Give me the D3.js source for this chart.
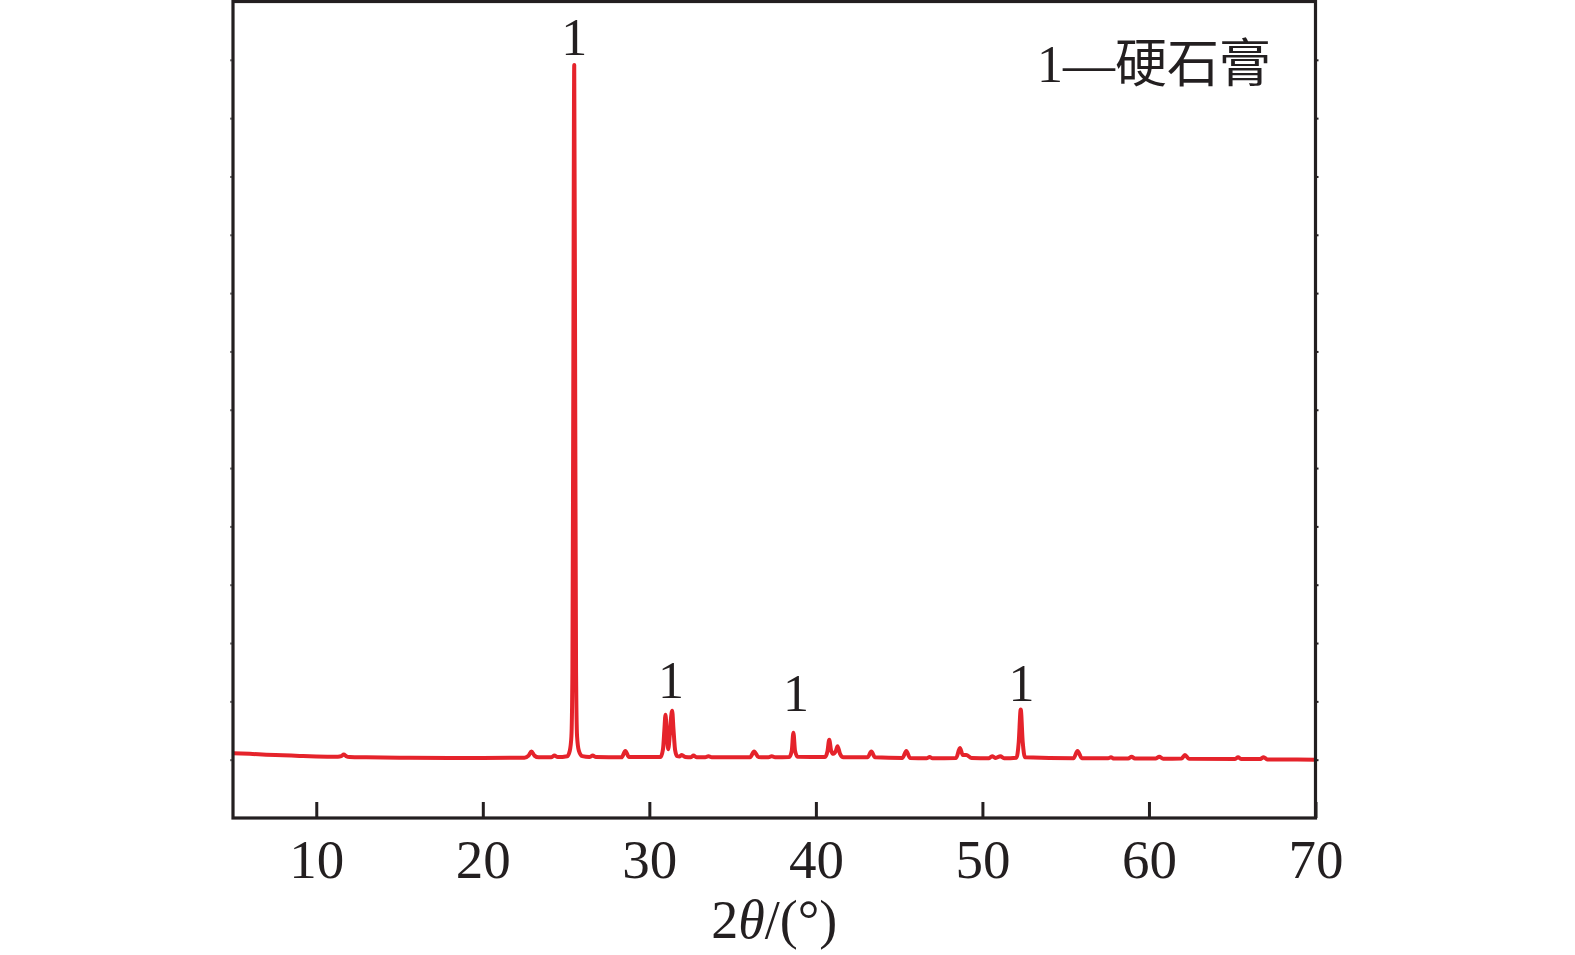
<!DOCTYPE html>
<html>
<head>
<meta charset="utf-8">
<script src="https://cdn.jsdelivr.net/npm/d3@7"></script>
<style>
  html, body { margin: 0; padding: 0; background: #fff; }
  svg { display: block; }
</style>
</head>
<body>
<div id="chart"></div>
<script>
// ---- data ----
const twoTheta = [
  5.0, 6.0, 7.0, 8.0, 9.0, 10.0, 11.3, 11.5, 11.65, 11.8, 12.0, 13.0, 15.0, 18.0, 20.0,
  22.5, 22.75, 22.92, 23.1, 23.35, 24.1, 24.3, 24.5,
  25.07, 25.22, 25.32, 25.38, 25.43, 25.49, 25.55, 25.6, 25.66, 25.77, 25.97,
  26.4, 26.6, 26.8, 28.33, 28.56, 28.78,
  30.67, 30.82, 30.9, 30.97, 31.04, 31.13, 31.22, 31.29, 31.37, 31.45, 31.55, 31.67, 31.8, 31.95, 32.15,
  32.5, 32.65, 32.85, 33.35, 33.55, 33.75, 36.05, 36.29, 36.55, 37.15, 37.35, 37.55,
  38.4, 38.55, 38.65, 38.75, 38.9,
  40.55, 40.7, 40.8, 40.92, 41.05, 41.2, 41.3, 41.45, 41.65,
  43.1, 43.33, 43.55, 45.2, 45.43, 45.65, 46.65, 46.83, 47.0,
  48.42, 48.65, 48.82, 49.03, 49.35, 50.4, 50.58, 50.8, 51.08, 51.3,
  52.05, 52.18, 52.3, 52.42, 52.56,
  55.47, 55.71, 55.97, 57.55, 57.72, 57.9, 58.75, 58.96, 59.15, 60.4, 60.62, 60.85,
  61.95, 62.16, 62.4, 65.15, 65.35, 65.55, 66.65, 66.89, 67.1, 70.0
];
const intensity = [
  111, 110, 108.5, 107.5, 106.5, 105.5, 105, 106, 109, 106, 104.5, 104, 103.5, 103, 103,
  103.5, 107, 114, 107, 104, 104, 107, 104.5,
  106, 115, 140, 250, 700, 1291, 700, 250, 140, 115, 106,
  104.5, 107, 104.5, 104, 115, 104.5,
  104.5, 118, 150, 177, 148, 118, 140, 168, 184, 152, 116, 106, 105.5, 108, 104.5,
  104, 107, 104, 104, 106, 104, 104, 114, 104.5, 104, 106, 104,
  104.5, 115, 146, 115, 105,
  104.5, 115, 134, 115, 110, 115, 123, 110, 104,
  104, 114, 104, 103, 115, 103, 102.5, 104.5, 102.5,
  103, 120, 108, 108, 103, 102.5, 106, 103, 106, 102.5,
  103.5, 130, 186, 130, 104,
  102.5, 115, 102.5, 102.5, 104, 102, 102, 105, 102, 102, 105, 101.5,
  102, 108, 101.5, 101, 104, 101, 101, 104, 100.5, 100
];
const xTickValues = [10, 20, 30, 40, 50, 60, 70];
const peakLabelX = [25.49, 31.3, 38.8, 52.35];
const peakLabelY = [1308, 206, 183, 200];
const peakLabelText = ["1", "1", "1", "1"];
const legendText = "1\u2014硬石膏";
const xTitleParts = ["2", "θ", "/(°)"];

(function () {
  const W = 1575, H = 955;
  const mL = 233, mR = 1315.5, mT = 1.5, mB = 818;
  const svg = d3.select("#chart").append("svg").attr("width", W).attr("height", H);

  const x = d3.scaleLinear().domain([5, 70]).range([mL, mR]);
  const y = d3.scaleLinear().domain([0, 1400]).range([mB, mT]);

  const axisColor = "#231f20";
  const serif = "'Liberation Serif', 'Times New Roman', serif";

  // curve
  const data = twoTheta.map((t, i) => ({ t, v: intensity[i] }));
  const line = d3.line().x(d => x(d.t)).y(d => y(d.v)).curve(d3.curveMonotoneX);
  svg.append("path").datum(data)
    .attr("d", line)
    .attr("fill", "none")
    .attr("stroke", "#e5232b")
    .attr("stroke-width", 4)
    .attr("stroke-linejoin", "round");

  // bottom axis: inward major ticks
  const xAxis = d3.axisBottom(x).tickValues(xTickValues).tickSize(-16).tickFormat(d3.format("d"));
  const gx = svg.append("g").attr("transform", `translate(0,${mB})`).call(xAxis);
  gx.select(".domain").remove();
  gx.selectAll(".tick line").attr("stroke", axisColor).attr("stroke-width", 3);
  gx.selectAll(".tick text").attr("fill", axisColor).attr("font-family", serif).attr("font-size", 55)
    .attr("dy", null).attr("y", 60);

  // top axis tiny ticks
  const gt = svg.append("g").attr("transform", `translate(0,${mT})`)
    .call(d3.axisTop(x).tickValues(d3.range(10, 70, 5)).tickSize(3).tickFormat(""));
  gt.select(".domain").remove();
  gt.selectAll(".tick line").attr("stroke", "#888").attr("stroke-width", 2);

  // left & right tiny ticks
  const yt = d3.range(100, 1400, 100);
  const gl = svg.append("g").attr("transform", `translate(${mL},0)`)
    .call(d3.axisLeft(y).tickValues(yt).tickSize(3).tickFormat(""));
  gl.select(".domain").remove();
  gl.selectAll(".tick line").attr("stroke", "#777").attr("stroke-width", 2);
  const gr = svg.append("g").attr("transform", `translate(${mR},0)`)
    .call(d3.axisRight(y).tickValues(yt).tickSize(3).tickFormat(""));
  gr.select(".domain").remove();
  gr.selectAll(".tick line").attr("stroke", axisColor).attr("stroke-width", 2);

  // frame
  svg.append("rect")
    .attr("x", mL).attr("y", mT)
    .attr("width", mR - mL).attr("height", mB - mT)
    .attr("fill", "none").attr("stroke", axisColor).attr("stroke-width", 3.2);

  // peak labels
  svg.append("g").selectAll("text").data(peakLabelX).join("text")
    .attr("x", d => x(d))
    .attr("y", (d, i) => y(peakLabelY[i]))
    .attr("text-anchor", "middle")
    .attr("font-family", serif).attr("font-size", 52).attr("fill", axisColor)
    .text((d, i) => peakLabelText[i]);

  // legend
  svg.append("text")
    .attr("x", 1271).attr("y", 82)
    .attr("text-anchor", "end")
    .attr("font-family", "'Liberation Serif', 'Noto Sans CJK SC', serif")
    .attr("font-size", 52).attr("fill", axisColor)
    .text(legendText);

  // x title
  const xt = svg.append("text")
    .attr("x", (mL + mR) / 2).attr("y", 938)
    .attr("text-anchor", "middle")
    .attr("font-family", serif).attr("font-size", 54).attr("fill", axisColor);
  xt.append("tspan").text(xTitleParts[0]);
  xt.append("tspan").attr("font-style", "italic").text(xTitleParts[1]);
  xt.append("tspan").text(xTitleParts[2]);
})();
</script>
</body>
</html>
